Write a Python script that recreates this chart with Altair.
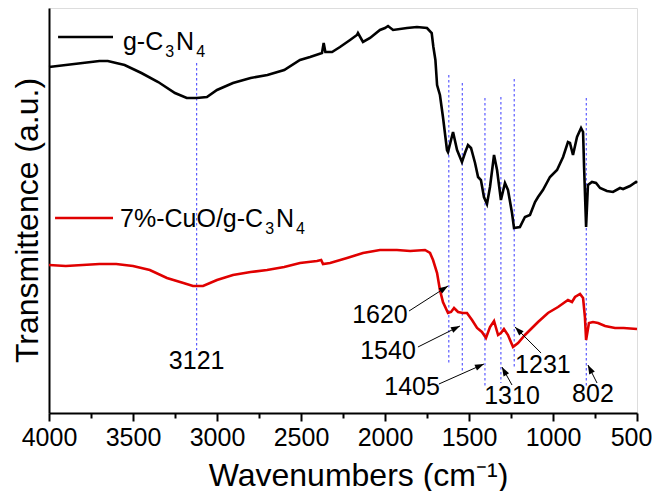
import math
import altair as alt
import pandas as pd

FONT = "Liberation Sans"

# ---- spectra (wavenumber, transmittance in arbitrary units) ----
black_wn = [4000, 3900, 3800, 3700, 3650, 3550, 3450, 3350, 3250, 3180, 3121, 3060, 3000, 2905, 2800,
            2700, 2600, 2506, 2446, 2375, 2365, 2355, 2315, 2268, 2208, 2167, 2161, 2131, 2089, 2030,
            2000, 1982, 1952, 1869, 1810, 1750, 1722, 1712, 1700, 1690, 1673, 1655, 1631, 1625, 1607,
            1595, 1571, 1542, 1524, 1506, 1488, 1464, 1446, 1429, 1411, 1393, 1375, 1351, 1333, 1310,
            1286, 1268, 1244, 1232, 1197, 1167, 1137, 1107, 1089, 1060, 1018, 976, 940, 911, 899,
            881, 857, 833, 821, 815, 803, 792, 768, 744, 720, 679, 643, 601, 583, 542, 506, 500]
black_t = [346, 348, 350, 352, 352, 348, 340, 331, 320, 315, 315, 316, 323, 330, 335,
           338, 343, 353, 356, 360, 370, 361, 361, 366, 373, 378, 380, 371, 375, 383,
           385, 387, 383, 385, 386, 385, 380, 366, 353, 328, 318, 296, 263, 261, 273,
           281, 263, 251, 260, 268, 265, 250, 236, 233, 216, 209, 226, 258, 243, 213,
           230, 223, 200, 185, 186, 196, 198, 211, 216, 223, 236, 243, 256, 271, 270,
           258, 276, 285, 281, 246, 186, 228, 231, 230, 225, 222, 221, 225, 224, 227, 231, 230]

red_wn = [4000, 3900, 3800, 3700, 3600, 3500, 3400, 3298, 3200, 3143, 3083, 3000, 2905, 2800, 2702,
          2600, 2506, 2405, 2380, 2369, 2327, 2226, 2131, 2030, 1929, 1850, 1762, 1732, 1714, 1690,
          1673, 1655, 1625, 1607, 1589, 1565, 1536, 1512, 1482, 1452, 1423, 1399, 1375, 1351, 1327,
          1310, 1292, 1268, 1238, 1208, 1167, 1125, 1089, 1030, 970, 911, 887, 869, 839, 821,
          810, 803, 786, 762, 732, 690, 631, 580, 500]
red_t = [148, 147, 148, 149, 149, 147, 143, 135, 130, 127, 127, 133, 138, 141, 143,
         146, 150, 152, 153, 149, 150, 155, 160, 163, 163, 162, 163, 160, 153, 140,
         123, 111, 100, 101, 105, 101, 100, 100, 93, 85, 81, 75, 86, 92, 78,
         80, 84, 78, 66, 70, 78, 85, 91, 100, 106, 113, 111, 116, 119, 115,
         96, 73, 90, 91, 90, 87, 85, 85, 84]

# ---- peak markers ----
peak_wn = [3121, 1620, 1540, 1405, 1310, 1231, 802]
peak_top = [350, 338, 330, 315, 316, 334, 315]
peak_bottom = [63, 50, 41, 26, 30, 45, 26]

# ---- annotation labels ----
label_text = ["3121", "1620", "1540", "1405", "1310", "1231", "802"]
label_x = [3121, 2030, 1982, 1839, 1244, 1060, 762]
label_y = [52, 98, 62, 26, 17, 48, 19]

# ---- arrows (start -> head) ----
arrow_x1 = [1857, 1804, 1679, 1244, 1071, 738]
arrow_y1 = [102, 66, 29, 28, 60, 30]
arrow_x2 = [1625, 1554, 1411, 1304, 1226, 792]
arrow_y2 = [127, 87, 49, 46, 86, 48]

# ---- legend ----
legend_names = ["g-C3N4", "7%-CuO/g-C3N4"]
legend_parts = [[("g-C", 0), ("3", 1), ("N", 0), ("4", 1)],
                [("7%-CuO/g-C", 0), ("3", 1), ("N", 0), ("4", 1)]]
legend_colors = ["#000000", "#e00000"]
legend_x1 = [3946, 3964]
legend_x2 = [3619, 3619]
legend_y = [376, 195]
legend_tx = [3560, 3577]
legend_ty = [363, 186]

major_ticks = [4000, 3500, 3000, 2500, 2000, 1500, 1000, 500]
minor_ticks = [3750, 3250, 2750, 2250, 1750, 1250, 750]

W, H = 588, 405
X_DOM = [500, 4000]
Y_DOM = [0, 405]
px_per_x = W / (X_DOM[1] - X_DOM[0])
px_per_y = H / (Y_DOM[1] - Y_DOM[0])
MAIN_FS, SUB_FS, SUB_DROP, SUB_GAP = 25, 16, 7, 2
# Arial / Liberation Sans advance widths (em)
ADV = {"g": 0.556, "-": 0.333, "C": 0.722, "N": 0.722, "7": 0.556, "%": 0.889,
       "u": 0.556, "O": 0.778, "/": 0.278, "3": 0.556, "4": 0.556}

x_scale = alt.Scale(domain=X_DOM, reverse=True, nice=False, zero=False)
y_scale = alt.Scale(domain=Y_DOM, nice=False, zero=False)

x_axis_main = alt.Axis(
    values=major_ticks, orient="bottom", format="d",
    title="Wavenumbers (cm\u207b\u00b9)", titleFont=FONT, titleFontSize=32,
    titleFontWeight="normal", titleColor="black",
    titleX=309, titleY=72, titleAlign="center", titleBaseline="alphabetic",
    labelFont=FONT, labelFontSize=25, labelColor="black", labelPadding=4,
    labelFlush=False, labelOverlap=False,
    labelOffset={"condition": {"test": "datum.value === 500", "value": -6}, "value": 0},
    tickSize=8, tickWidth=2, tickColor="black",
    domainColor="black", domainWidth=2, grid=False,
)
x_axis_minor = alt.Axis(
    values=minor_ticks, orient="bottom", labels=False, domain=False, title="",
    tickSize=5, tickWidth=2, tickColor="black", grid=False,
)
y_axis = alt.Axis(
    title="Transmittence (a.u.)", titleFont=FONT, titleFontSize=32,
    titleFontWeight="normal", titleColor="black",
    titleX=-12, titleY=212, titleAngle=270, titleAlign="center",
    titleBaseline="alphabetic",
    labels=False, ticks=False, domain=True, domainColor="black",
    domainWidth=2, grid=False,
)

def X(field, axis=None):
    return alt.X(field, type="quantitative", scale=x_scale, axis=axis)

def Y(field):
    return alt.Y(field, type="quantitative", scale=y_scale, axis=y_axis)

df_black = pd.DataFrame({"wn": black_wn, "t": black_t})
df_red = pd.DataFrame({"wn": red_wn, "t": red_t})
df_peaks = pd.DataFrame({"wn": peak_wn, "top": peak_top, "bottom": peak_bottom})
df_labels = pd.DataFrame({"x": label_x, "y": label_y, "label": label_text})
angles = []
for a, b, c, d in zip(arrow_x1, arrow_y1, arrow_x2, arrow_y2):
    dx = -(c - a) * px_per_x
    dy = -(d - b) * px_per_y
    angles.append(math.degrees(math.atan2(dx, -dy)) % 360)
df_arrows = pd.DataFrame({"x1": arrow_x1, "y1": arrow_y1, "x2": arrow_x2, "y2": arrow_y2, "ang": angles})
df_legend = pd.DataFrame({"name": legend_names, "x1": legend_x1, "x2": legend_x2, "y": legend_y})

main_rows, sub_rows = [], []
for parts, tx, ty in zip(legend_parts, legend_tx, legend_ty):
    cursor = 0.0
    for txt, is_sub in parts:
        if is_sub:
            cursor += SUB_GAP
            sub_rows.append({"t": txt, "x": tx - cursor / px_per_x, "y": ty - SUB_DROP / px_per_y})
            cursor += sum(ADV[ch] for ch in txt) * SUB_FS + SUB_GAP
        else:
            main_rows.append({"t": txt, "x": tx - cursor / px_per_x, "y": ty})
            cursor += sum(ADV[ch] for ch in txt) * MAIN_FS
df_lmain = pd.DataFrame(main_rows)
df_lsub = pd.DataFrame(sub_rows)
df_minor = pd.DataFrame({"wn": minor_ticks})

vlines = alt.Chart(df_peaks).mark_rule(color="#3a3aff", strokeDash=[2.5, 2.5], strokeWidth=1).encode(
    x=X("wn"), y=Y("top"), y2="bottom")

black_line = alt.Chart(df_black).mark_line(color="black", strokeWidth=2.6).encode(
    x=X("wn", x_axis_main), y=Y("t"))

red_line = alt.Chart(df_red).mark_line(color="#e00000", strokeWidth=2.6).encode(
    x=X("wn"), y=Y("t"))

minor = alt.Chart(df_minor).mark_point(opacity=0, size=1).encode(
    x=X("wn", x_axis_minor), y=alt.value(0))

labels = alt.Chart(df_labels).mark_text(font=FONT, fontSize=25, color="black",
                                         align="center", baseline="middle").encode(
    x=X("x"), y=Y("y"), text="label:N")

arrow_lines = alt.Chart(df_arrows).mark_rule(color="black", strokeWidth=1).encode(
    x=X("x1"), y=Y("y1"), x2="x2", y2="y2")

arrow_heads = alt.Chart(df_arrows).mark_point(
    shape="M0,0L-0.35,1L0.35,1Z", filled=True, color="black", size=324, opacity=1).encode(
    x=X("x2"), y=Y("y2"), angle=alt.Angle("ang:Q", scale=None))

legend_lines = alt.Chart(df_legend).mark_rule(strokeWidth=2.6).encode(
    x=X("x1"), x2="x2", y=Y("y"),
    color=alt.Color("name:N", scale=alt.Scale(domain=legend_names, range=legend_colors), legend=None))

legend_main = alt.Chart(df_lmain).mark_text(font=FONT, fontSize=MAIN_FS, color="black",
                                             align="left", baseline="alphabetic").encode(
    x=X("x"), y=Y("y"), text="t:N")
legend_sub = alt.Chart(df_lsub).mark_text(font=FONT, fontSize=SUB_FS, color="black",
                                           align="left", baseline="alphabetic").encode(
    x=X("x"), y=Y("y"), text="t:N")

chart = alt.layer(
    vlines, black_line, red_line, minor, labels, arrow_lines, arrow_heads,
    legend_lines, legend_main, legend_sub
).resolve_axis(x="independent").properties(
    width=W, height=H,
    autosize=alt.AutoSizeParams(type="none"),
    padding={"left": 41, "top": 0, "right": 15, "bottom": 78},
).configure_view(stroke="black", strokeWidth=2).configure(font=FONT)

chart.save("out.html", embed_options={"renderer": "svg", "actions": False})
